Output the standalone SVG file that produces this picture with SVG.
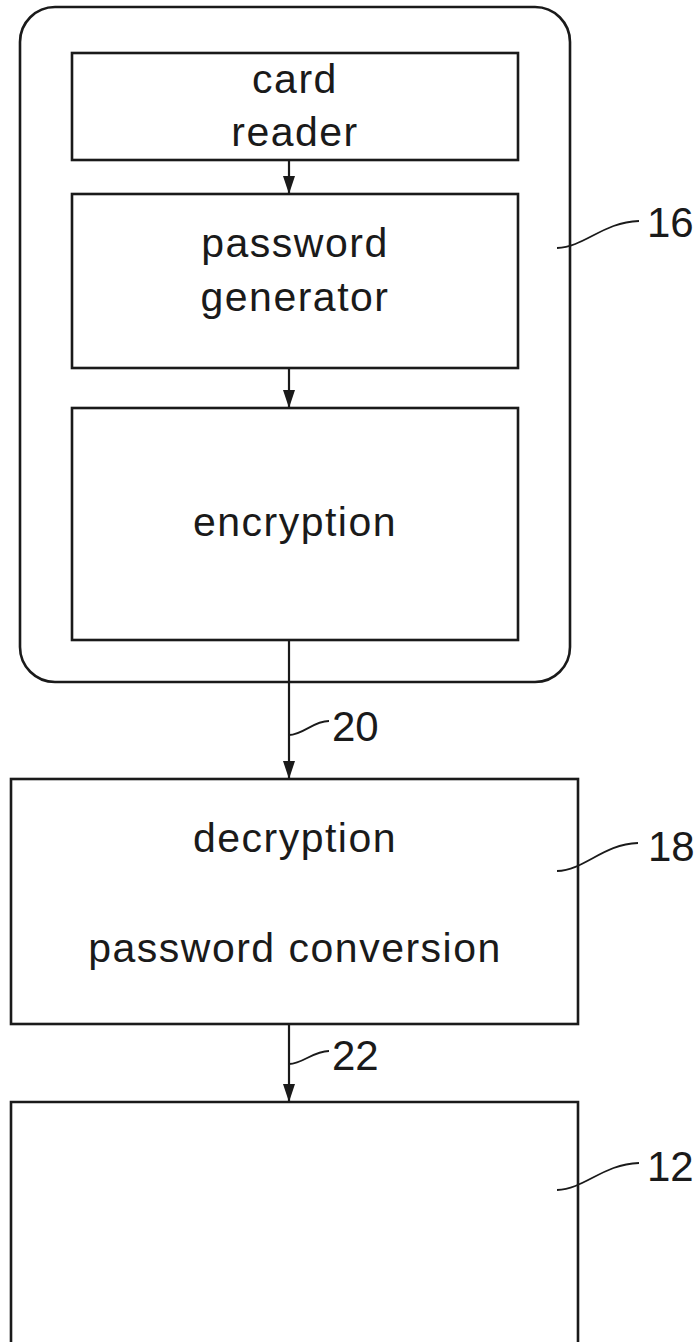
<svg xmlns="http://www.w3.org/2000/svg" width="698" height="1342" viewBox="0 0 698 1342">
<style>
.box{fill:none;stroke:#1a1a1a;stroke-width:2.6}
.ln{fill:none;stroke:#1a1a1a;stroke-width:2.2}
.ld{fill:none;stroke:#1a1a1a;stroke-width:1.8}
.t{font-family:"Liberation Sans",Arial,sans-serif;font-size:41px;letter-spacing:1.5px;fill:#1a1a1a;text-anchor:middle}
.n{font-family:"Liberation Sans",Arial,sans-serif;font-size:42px;fill:#1a1a1a}
</style>
<defs>
<marker id="ah" viewBox="0 0 18 12" refX="18" refY="6" markerWidth="18" markerHeight="12" markerUnits="userSpaceOnUse" orient="auto">
<path d="M0,0 L18,6 L0,12 Z" fill="#1a1a1a"/>
</marker>
</defs>
<rect width="698" height="1342" fill="#fff"/>
<g id="node-16">
<rect class="box" x="20" y="7" width="550" height="675" rx="35" ry="35"/>
<path class="ld" d="M557,248 C585,247 603,222 639,221"/>
<text class="n" x="647" y="237">16</text>
</g>
<g id="node-card-reader">
<rect class="box" x="72" y="53" width="446" height="107"/>
<text class="t" x="295" y="93">card</text>
<text class="t" x="295" y="146">reader</text>
</g>
<g id="node-password-generator">
<rect class="box" x="72" y="194" width="446" height="174"/>
<text class="t" x="295" y="257">password</text>
<text class="t" x="295" y="311">generator</text>
</g>
<g id="node-encryption">
<rect class="box" x="72" y="408" width="446" height="232"/>
<text class="t" x="295" y="536">encryption</text>
</g>
<g id="node-18">
<rect class="box" x="11" y="779" width="567" height="245"/>
<text class="t" x="295" y="852">decryption</text>
<text class="t" x="295" y="962">password conversion</text>
<path class="ld" d="M557,871 C585,870 603,844 638,843"/>
<text class="n" x="648" y="861">18</text>
</g>
<g id="node-12">
<path class="box" d="M11,1350 L11,1102 L578,1102 L578,1350"/>
<path class="ld" d="M557,1190 C585,1189 603,1164 639,1163"/>
<text class="n" x="647" y="1181">12</text>
</g>
<g id="connectors">
<line class="ln" x1="289" y1="160" x2="289" y2="194" marker-end="url(#ah)"/>
<line class="ln" x1="289" y1="368" x2="289" y2="408" marker-end="url(#ah)"/>
<line class="ln" x1="289" y1="640" x2="289" y2="779" marker-end="url(#ah)"/>
<line class="ln" x1="289" y1="1024" x2="289" y2="1102" marker-end="url(#ah)"/>
<path class="ld" d="M289,735 C303,735 313,721 329,721"/>
<text class="n" x="332" y="741">20</text>
<path class="ld" d="M289,1064 C303,1064 313,1051 329,1051"/>
<text class="n" x="332" y="1070">22</text>
</g>
</svg>
